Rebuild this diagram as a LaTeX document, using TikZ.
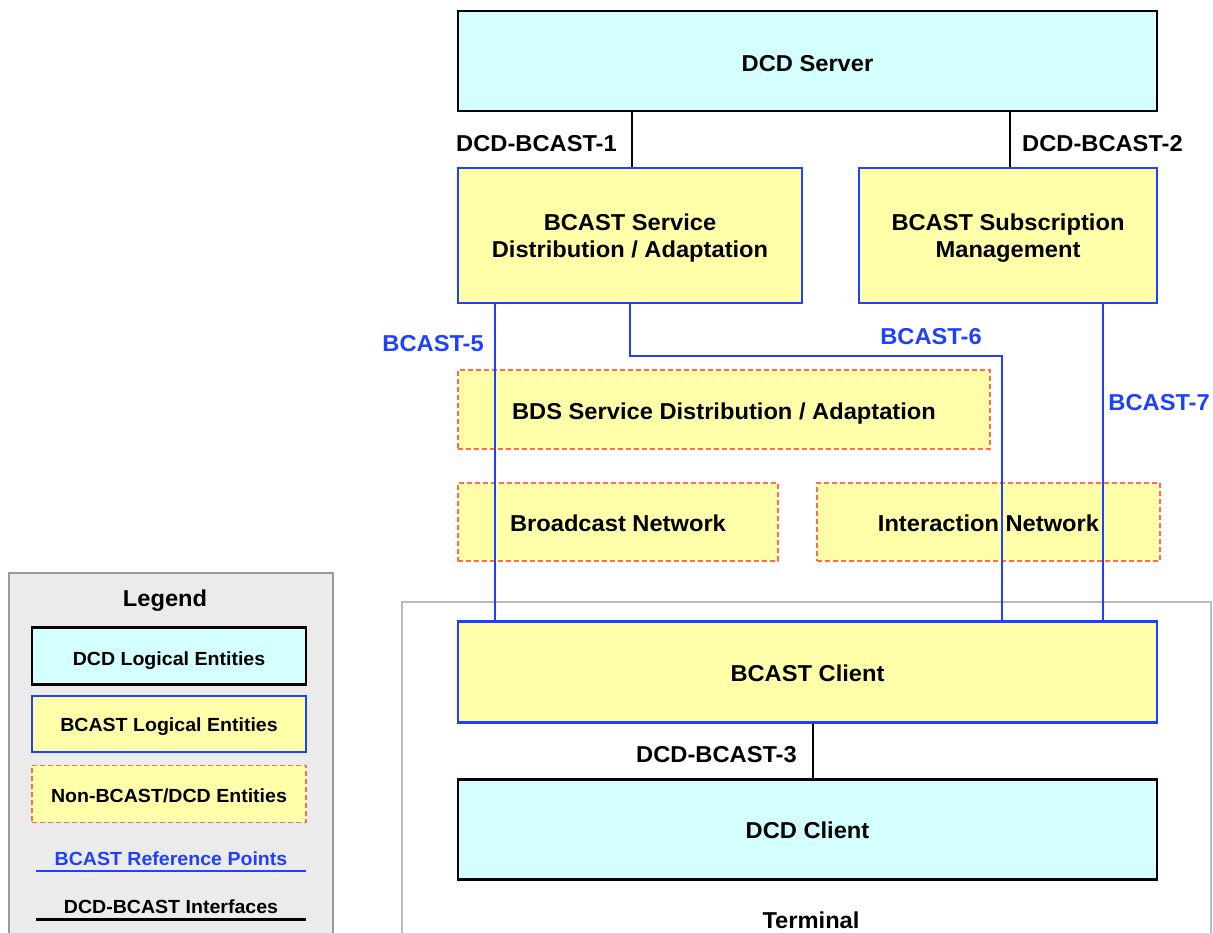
\documentclass[tikz,border=0pt]{standalone}
\usepackage{fontspec}
\setmainfont{Liberation Sans}[FakeStretch=1.03]
\definecolor{dcdcyan}{HTML}{D4FFFF}
\definecolor{byellow}{HTML}{FFFFAA}
\definecolor{bblue}{HTML}{1E40FF}
\definecolor{nred}{HTML}{FF6A50}
\definecolor{leggray}{HTML}{EBEBEB}
\definecolor{legborder}{HTML}{999999}
\definecolor{termborder}{HTML}{BBBBBB}
\newcommand{\twoline}[2]{\raisebox{-#1pt}[\height][\depth]{\begin{tabular}{@{}c@{}}#2\end{tabular}}}
\tikzset{
  big/.style={font=\fontsize{23}{27}\selectfont\bfseries},
  small/.style={font=\fontsize{19}{23}\selectfont\bfseries},
  bigoff/.style={text height={16.5pt+2*#1pt}, text depth=0pt},
  smalloff/.style={text height={13.6pt+2*#1pt}, text depth=0pt},
  dcdbox/.style={draw=black, line width=2.8pt, fill=dcdcyan, inner sep=0pt, align=center},
  bcastbox/.style={draw=bblue, line width=2.8pt, fill=byellow, inner sep=0pt, align=center},
  otherbox/.style={draw=nred, line width=1.2pt, dash pattern=on 5pt off 3pt, fill=byellow, inner sep=0pt, align=center},
  refline/.style={draw=bblue, line width=2.8pt},
  ifline/.style={draw=black, line width=2.2pt},
  bluelabel/.style={big, bigoff=0, text=bblue, inner sep=0pt},
  blacklabel/.style={big, bigoff=0, text=black, inner sep=0pt},
}
\begin{document}
\begin{tikzpicture}[x=1pt, y=-1pt]
\useasboundingbox (0,0) rectangle (1213,932);
% terminal and legend frames
\draw[termborder, line width=1.5pt] (402,945) -- (402,602) -- (1211,602) -- (1211,945);
\node[blacklabel] (termlabel) at (811,920) {Terminal};
\draw[legborder, fill=leggray, line width=1.5pt] (9,945) -- (9,573) -- (333,573) -- (333,945);
\node[blacklabel] (legtitle) at (165,598) {Legend};
\node[dcdbox, small, smalloff=2.3, minimum width=274pt, minimum height=57pt] (leg1) at (169,656) {DCD Logical Entities};
\node[bcastbox, small, smalloff=0.7, minimum width=274pt, minimum height=56pt] (leg2) at (169,724) {BCAST Logical Entities};
\node[otherbox, small, smalloff=2, minimum width=274pt, minimum height=57pt] (leg3) at (169,793.8) {Non-BCAST/DCD Entities};
\node[small, smalloff=0, text=bblue, inner sep=0pt] (leg4) at (171,858.8) {BCAST Reference Points};
\coordinate (l4a) at (36,871); \coordinate (l4b) at (306,871);
\draw[refline] (l4a) -- (l4b);
\node[small, smalloff=0, inner sep=0pt] (leg5) at (171,906.7) {DCD-BCAST Interfaces};
\coordinate (l5a) at (36,919); \coordinate (l5b) at (306,919);
\draw[black, line width=3pt] (l5a) -- (l5b);
% main boxes
\node[dcdbox, big, bigoff=2, minimum width=699pt, minimum height=100pt] (server) at (807.5,61) {DCD Server};
\node[bcastbox, big, minimum width=344pt, minimum height=135pt] (bsda) at (630,235.5) {\twoline{3}{BCAST Service\\Distribution / Adaptation}};
\node[bcastbox, big, minimum width=298pt, minimum height=135pt] (bsm) at (1008,235.5) {\twoline{3}{BCAST Subscription\\Management}};
\node[otherbox, big, bigoff=1.5, minimum width=532pt, minimum height=79pt] (bds) at (724,409.5) {BDS Service Distribution / Adaptation};
\node[otherbox, big, bigoff=1, minimum width=320pt, minimum height=78pt] (bnet) at (618,522) {Broadcast Network};
\node[otherbox, big, bigoff=1, minimum width=343pt, minimum height=78pt] (inet) at (988.5,522) {Interaction Network};
\node[bcastbox, big, bigoff=1.2, minimum width=699pt, minimum height=101pt] (client) at (807.5,671.8) {BCAST Client};
\node[dcdbox, big, bigoff=1, minimum width=699pt, minimum height=100pt] (dcdclient) at (807.5,829.5) {DCD Client};
% interface lines
\coordinate (x1) at (632,0);
\coordinate (x2) at (1010,0);
\coordinate (x3) at (813,0);
\draw[ifline] (server.south -| x1) -- (bsda.north -| x1);
\draw[ifline] (server.south -| x2) -- (bsm.north -| x2);
\draw[ifline] (client.south -| x3) -- (dcdclient.north -| x3);
\node[blacklabel, anchor=east] (if1) at (617,143) {DCD-BCAST-1};
\node[blacklabel, anchor=west] (if2) at (1022,143) {DCD-BCAST-2};
\node[blacklabel, anchor=east] (if3) at (797,754.7) {DCD-BCAST-3};
% reference points
\coordinate (x5) at (495,0);
\coordinate (x6a) at (630,0);
\coordinate (x6b) at (1002,0);
\coordinate (y6) at (0,356);
\coordinate (x7) at (1103,0);
\draw[refline] (bsda.south -| x5) -- (client.north -| x5);
\draw[refline] (bsda.south -| x6a) -- (x6a |- y6) -- (x6b |- y6) -- (client.north -| x6b);
\draw[refline] (bsm.south -| x7) -- (client.north -| x7);
\node[bluelabel, anchor=east] (r5) at (484,343.3) {BCAST-5};
\node[bluelabel] (r6) at (931,336.5) {BCAST-6};
\node[bluelabel, anchor=east] (r7) at (1210,402.5) {BCAST-7};
\end{tikzpicture}
\end{document}
